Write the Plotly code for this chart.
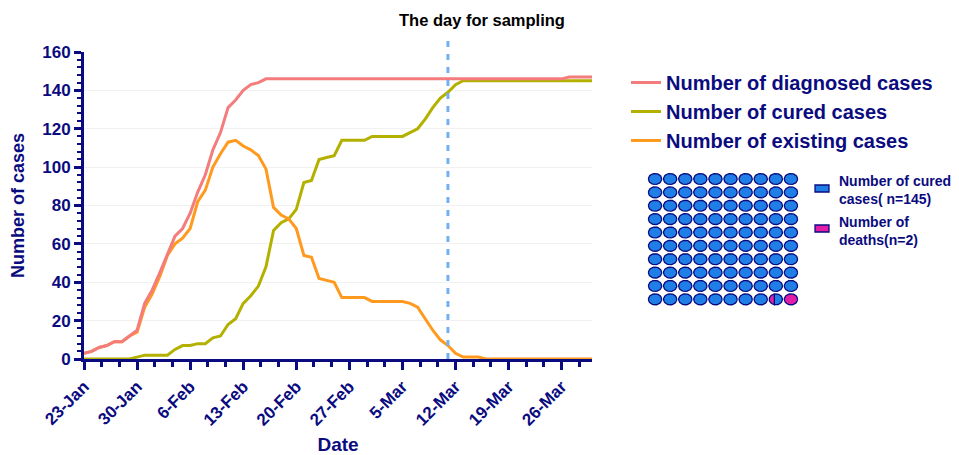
import math
import pandas as pd
import plotly.graph_objects as go

# ---------------- data ----------------
dates = pd.date_range("2020-01-23", "2020-03-30", freq="D")

diagnosed = [3, 4, 6, 7, 9, 9, 12, 15, 29, 36,
             45, 55, 64, 68, 76, 87, 96, 109, 118, 131,
             135, 140, 143, 144, 146, 146, 146, 146, 146, 146,
             146, 146, 146, 146, 146, 146, 146, 146, 146, 146,
             146, 146, 146, 146, 146, 146, 146, 146, 146, 146,
             146, 146, 146, 146, 146, 146, 146, 146, 146, 146,
             146, 146, 146, 146, 147, 147, 147, 147]

cured = [0, 0, 0, 0, 0, 0, 0, 1, 2, 2,
         2, 2, 5, 7, 7, 8, 8, 11, 12, 18,
         21, 29, 33, 38, 48, 67, 71, 73, 78, 92,
         93, 104, 105, 106, 114, 114, 114, 114, 116, 116,
         116, 116, 116, 118, 120, 125, 131, 136, 139, 143,
         145, 145, 145, 145, 145, 145, 145, 145, 145, 145,
         145, 145, 145, 145, 145, 145, 145, 145]

existing = [3, 4, 6, 7, 9, 9, 12, 14, 27, 34,
            43, 54, 60, 63, 68, 82, 88, 100, 107, 113,
            114, 111, 109, 106, 99, 79, 75, 73, 68, 54,
            53, 42, 41, 40, 32, 32, 32, 32, 30, 30,
            30, 30, 30, 29, 27, 21, 15, 10, 7, 3,
            1, 1, 1, 0, 0, 0, 0, 0, 0, 0,
            0, 0, 0, 0, 0, 0, 0, 0]

series_names = ["Number of diagnosed cases", "Number of cured cases", "Number of existing cases"]
series_colors = ["#f47c7c", "#b3b000", "#ff9a1f"]

sampling_day = "2020-03-11"
sampling_label = "The day for sampling"

total_cured = 145
total_deaths = 2
waffle_cells = 100
waffle_cols = 10

assert len(diagnosed) == len(cured) == len(existing) == len(dates)

# ---------------- styling ----------------
NAVY = "#0b0b80"
FONT = "Arial, Liberation Sans, sans-serif"
BLUE = "#1f7fe6"
MAGENTA = "#e31ea6"

OFF = 8                      # page body margin of the browser
SW, SH = 959, 455            # screen size
W, H = SW - OFF, SH - OFF    # figure size
# target positions, in screen pixels
S_LEFT, S_TOP, S_BOTTOM, S_RIGHT = 84, 52, 359, 954
ML, MT = S_LEFT - OFF, S_TOP - OFF
MB = SH - S_BOTTOM
MR = SW - S_RIGHT
PW = W - ML - MR
PH = H - MT - MB


def px_x(p):
    return (p - S_LEFT) / PW


def px_y(p):
    return (S_BOTTOM - p) / PH


fig = go.Figure()

# draw order: cured, existing, diagnosed (diagnosed on top); legend order via legendrank
order = [(1, cured), (2, existing), (0, diagnosed)]
for idx, vals in order:
    fig.add_trace(go.Scatter(
        x=dates, y=vals, mode="lines", name=series_names[idx],
        line=dict(color=series_colors[idx], width=3),
        legendrank=idx + 1, legendgroup=f"g{idx}",
        xaxis="x", yaxis="y",
    ))

# ---------------- waffle ----------------
rows = waffle_cells // waffle_cols
share = waffle_cells * total_cured / (total_cured + total_deaths)
n_full = int(math.floor(share))
frac_blue = share - n_full
rx, ry = 0.44, 0.41


def ellipse(cx, cy, t0=0.0, t1=2 * math.pi, n=40):
    xs, ys = [], []
    for i in range(n + 1):
        t = t0 + (t1 - t0) * i / n
        xs.append(cx + rx * math.cos(t))
        ys.append(cy + ry * math.sin(t))
    xs.append(xs[0])
    ys.append(ys[0])
    return xs, ys


def chord_u(left_frac):
    lo, hi = -1.0, 1.0
    for _ in range(60):
        u = (lo + hi) / 2
        a = (u * math.sqrt(1 - u * u) + math.asin(u) + math.pi / 2) / math.pi
        if a < left_frac:
            lo = u
        else:
            hi = u
    return (lo + hi) / 2


bx, by, mx, my = [], [], [], []
for k in range(waffle_cells):
    r, c = divmod(k, waffle_cols)
    cx, cy = c, rows - 1 - r
    if k < n_full:
        xs, ys = ellipse(cx, cy)
        bx += xs + [None]
        by += ys + [None]
    elif k == n_full and frac_blue > 0:
        u = chord_u(1 - frac_blue)
        a = math.acos(u)
        xs, ys = ellipse(cx, cy, -a, a)
        bx += xs + [None]
        by += ys + [None]
        xs, ys = ellipse(cx, cy, a, 2 * math.pi - a)
        mx += xs + [None]
        my += ys + [None]
    else:
        xs, ys = ellipse(cx, cy)
        mx += xs + [None]
        my += ys + [None]

fig.add_trace(go.Scatter(x=bx, y=by, mode="lines", fill="toself", fillcolor=BLUE,
                         line=dict(color=NAVY, width=1.3), showlegend=False,
                         hoverinfo="skip", xaxis="x2", yaxis="y2"))
fig.add_trace(go.Scatter(x=mx, y=my, mode="lines", fill="toself", fillcolor=MAGENTA,
                         line=dict(color=NAVY, width=1.3), showlegend=False,
                         hoverinfo="skip", xaxis="x2", yaxis="y2"))

# ---------------- layout ----------------
main_right = 592
fig.update_layout(
    width=W, height=H,
    margin=dict(l=ML, r=MR, t=MT, b=MB, autoexpand=False),
    paper_bgcolor="white", plot_bgcolor="white",
    font=dict(family=FONT, color=NAVY),
    xaxis=dict(
        domain=[0, px_x(main_right)],
        type="date",
        range=["2020-01-23", "2020-03-30"],
        tick0="2020-01-23", dtick=7 * 86400000,
        tickformat="%-d-%b", tickangle=-45,
        tickfont=dict(size=17, color=NAVY, family=FONT, weight="bold"),
        ticks="outside", ticklen=8, tickwidth=2.5, tickcolor=NAVY,
        minor=dict(ticks="outside", ticklen=5, tickwidth=2.5, tickcolor=NAVY,
                   tick0="2020-01-23", dtick=7 * 86400000 / 3, showgrid=False),
        showline=True, linecolor=NAVY, linewidth=3,
        showgrid=False, zeroline=False,
        title=dict(text="Date", font=dict(size=19, color=NAVY, family=FONT, weight="bold"), standoff=19),
        automargin=False,
    ),
    yaxis=dict(
        range=[0, 160], dtick=20,
        tickfont=dict(size=17, color=NAVY, family=FONT, weight="bold"),
        ticks="outside", ticklen=7, tickwidth=2.5, tickcolor=NAVY,
        minor=dict(ticks="outside", ticklen=4, tickwidth=2, tickcolor=NAVY, dtick=4, showgrid=False),
        showline=True, linecolor=NAVY, linewidth=3,
        showgrid=True, gridcolor="#f1f1f1", gridwidth=1,
        zeroline=False,
        title=dict(text="Number of cases", font=dict(size=18, color=NAVY, family=FONT, weight="bold"), standoff=13),
        automargin=False,
    ),
    xaxis2=dict(domain=[px_x(647.5), px_x(798.5)], range=[-0.5, 9.5], visible=False,
                anchor="y2", fixedrange=True),
    yaxis2=dict(domain=[px_y(306), px_y(172.3)], range=[-0.5, 9.5], visible=False,
                anchor="x2", fixedrange=True),
    legend=dict(
        xref="container", yref="container",
        x=(626 - OFF) / W, y=1 - (63 - OFF) / H, xanchor="left", yanchor="top",
        font=dict(size=20, color=NAVY, family=FONT, weight="bold"),
        tracegroupgap=0, bgcolor="rgba(0,0,0,0)",
    ),
    showlegend=True,
)

# sampling day marker
fig.add_shape(type="line", xref="x", yref="paper",
              x0=sampling_day, x1=sampling_day, y0=0, y1=px_y(37),
              line=dict(color="#72b0f2", width=3, dash="6px,7px"))
fig.add_annotation(text=sampling_label, xref="paper", yref="paper",
                   x=px_x(482), y=px_y(20), xanchor="center", yanchor="middle",
                   showarrow=False,
                   font=dict(size=16.5, color="black", family=FONT, weight="bold"))

# waffle legend
leg_items = [
    (BLUE, f"Number of cured<br>cases( n={total_cured})", 185, 171),
    (MAGENTA, f"Number of<br>deaths(n={total_deaths})", 225, 212),
]
for col, txt, ytop, ttop in leg_items:
    fig.add_shape(type="rect", xref="paper", yref="paper",
                  x0=px_x(815), x1=px_x(829), y0=px_y(ytop + 7), y1=px_y(ytop),
                  fillcolor=col, line=dict(color=NAVY, width=1.3))
    fig.add_annotation(text=txt, xref="paper", yref="paper",
                       x=px_x(837), y=px_y(ttop), xanchor="left", yanchor="top",
                       align="left", showarrow=False,
                       font=dict(size=14, color=NAVY, family=FONT, weight="bold"))

fig.write_html("out.html")
